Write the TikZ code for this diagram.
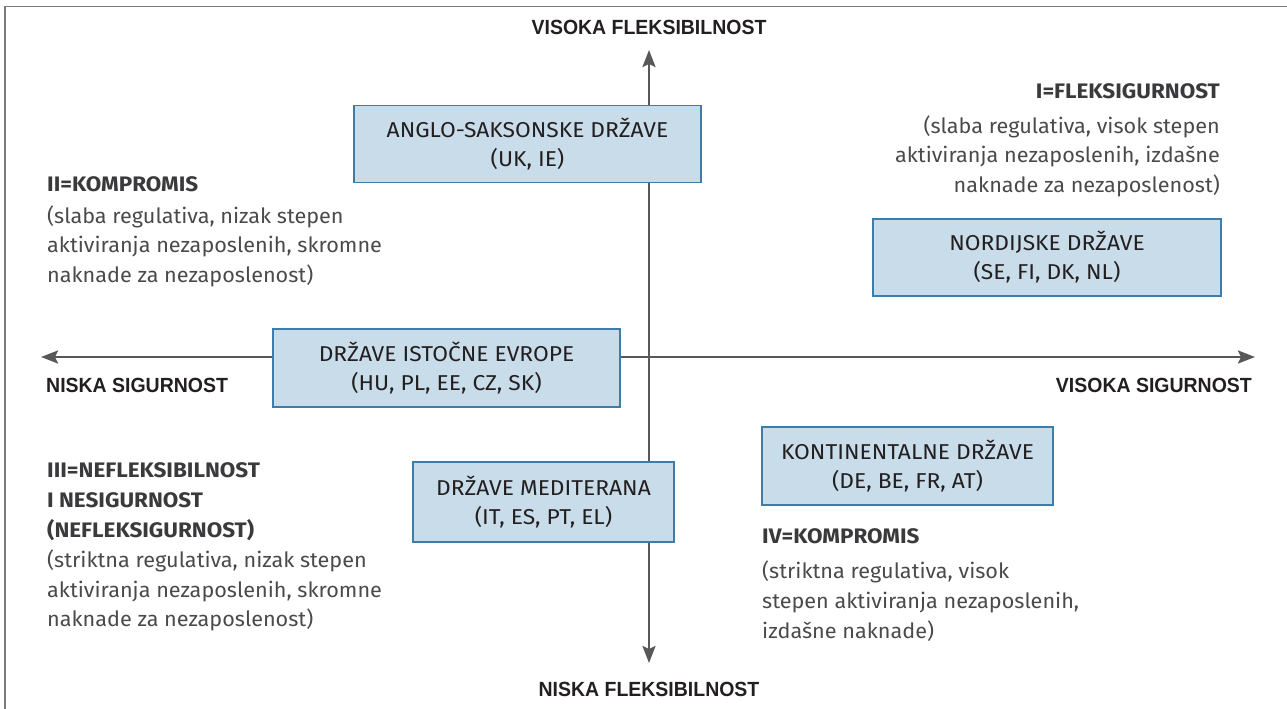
\documentclass[tikz,border=0pt]{standalone}
\usepackage{fontspec}
\setmainfont{Fira Sans}
\newfontfamily\axisfont[FakeStretch=0.95]{Liberation Sans}
\newfontfamily\boxfont[FakeStretch=1.06]{Fira Sans}
\newfontfamily\bodyfont[FakeStretch=1.03]{Fira Sans}
\newfontfamily\headfont[FakeStretch=1.07]{Fira Sans}
\usetikzlibrary{arrows.meta}
\definecolor{boxfill}{HTML}{C8DCEA}
\definecolor{boxdraw}{HTML}{3D7DAA}
\definecolor{axisgray}{HTML}{58585A}
\definecolor{txtdark}{HTML}{231F20}
\definecolor{txtgray}{HTML}{4A4A4C}
\definecolor{headgray}{HTML}{3A3A3C}
\definecolor{framegray}{HTML}{7A7A7A}
\tikzset{
  boxnode/.style={draw=boxdraw, line width=1.3pt, fill=boxfill, inner sep=0pt, align=center, text=txtdark, font=\boxfont\fontsize{21.5}{29}\selectfont},
  axislabel/.style={font=\axisfont\bfseries\fontsize{20.5}{24}\selectfont, text=txtdark, inner sep=0pt},
  headline/.style={font=\headfont\bfseries\fontsize{21}{29}\selectfont, text=headgray, inner sep=0pt, anchor=base west},
  bodyline/.style={font=\bodyfont\fontsize{21}{29}\selectfont, text=txtgray, inner sep=0pt, anchor=base west},
  axisline/.style={draw=axisgray, line width=2.4pt, arrows={Stealth[length=17pt,width=13pt,inset=3pt]-Stealth[length=17pt,width=13pt,inset=3pt]}},
  frameline/.style={draw=framegray, line width=1.5pt}
}
\begin{document}
\begin{tikzpicture}[x=1pt,y=-1pt]
\useasboundingbox (0,0) rectangle (1287,709);
% frame
\coordinate (fbl) at (5,712);
\coordinate (ftl) at (5,6.5);
\coordinate (ftr) at (1290,6.5);
\draw[frameline] (fbl) -- (ftl) -- (ftr);
% axes
\coordinate (top) at (649,50);
\coordinate (bottom) at (649,663);
\coordinate (left) at (41,357);
\coordinate (right) at (1255,357);
\draw[axisline] (bottom) -- (top);
\draw[axisline] (left) -- (right);
% axis labels
\node[axislabel, anchor=base] (vf) at (649,35) {VISOKA FLEKSIBILNOST};
\node[axislabel, anchor=base] (nf) at (649,696) {NISKA FLEKSIBILNOST};
\node[axislabel, anchor=base west] (ns) at (46,392) {NISKA SIGURNOST};
\node[axislabel, anchor=base east] (vs) at (1252,392) {VISOKA SIGURNOST};
% boxes
\node[boxnode, minimum width=347pt, minimum height=77pt] (anglo) at (527.5,144) {ANGLO-SAKSONSKE DRŽAVE\\(UK, IE)};
\node[boxnode, minimum width=348pt, minimum height=77pt] (nord) at (1047,257.5) {NORDIJSKE DRŽAVE\\(SE, FI, DK, NL)};
\node[boxnode, minimum width=347pt, minimum height=78pt] (east) at (446.5,368) {DRŽAVE ISTOČNE EVROPE\\(HU, PL, EE, CZ, SK)};
\node[boxnode, minimum width=261pt, minimum height=80pt] (med) at (543.5,502) {DRŽAVE MEDITERANA\\(IT, ES, PT, EL)};
\node[boxnode, minimum width=291pt, minimum height=78pt] (cont) at (907.5,466) {KONTINENTALNE DRŽAVE\\(DE, BE, FR, AT)};
% quadrant I
\node[headline, anchor=base east] (q1h) at (1220,98) {I=FLEKSIGURNOST};
\node[bodyline, anchor=base east] (q1a) at (1220,133) {(slaba regulativa, visok stepen};
\node[bodyline, anchor=base east] (q1b) at (1220,162) {aktiviranja nezaposlenih, izdašne};
\node[bodyline, anchor=base east] (q1c) at (1220,192) {naknade za nezaposlenost)};
% quadrant II
\node[headline] (q2h) at (47,191) {II=KOMPROMIS};
\node[bodyline] (q2a) at (47,223) {(slaba regulativa, nizak stepen};
\node[bodyline] (q2b) at (47,252.5) {aktiviranja nezaposlenih, skromne};
\node[bodyline] (q2c) at (47,282) {naknade za nezaposlenost)};
% quadrant III
\node[headline] (q3h) at (47,477) {III=NEFLEKSIBILNOST};
\node[headline] (q3i) at (47,507) {I NESIGURNOST};
\node[headline] (q3j) at (47,537) {(NEFLEKSIGURNOST)};
\node[bodyline] (q3a) at (47,567.5) {(striktna regulativa, nizak stepen};
\node[bodyline] (q3b) at (47,597) {aktiviranja nezaposlenih, skromne};
\node[bodyline] (q3c) at (47,626.5) {naknade za nezaposlenost)};
% quadrant IV
\node[headline] (q4h) at (762,543) {IV=KOMPROMIS};
\node[bodyline] (q4a) at (762,578) {(striktna regulativa, visok};
\node[bodyline] (q4b) at (762,608) {stepen aktiviranja nezaposlenih,};
\node[bodyline] (q4c) at (762,638) {izdašne naknade)};
\end{tikzpicture}
\end{document}
